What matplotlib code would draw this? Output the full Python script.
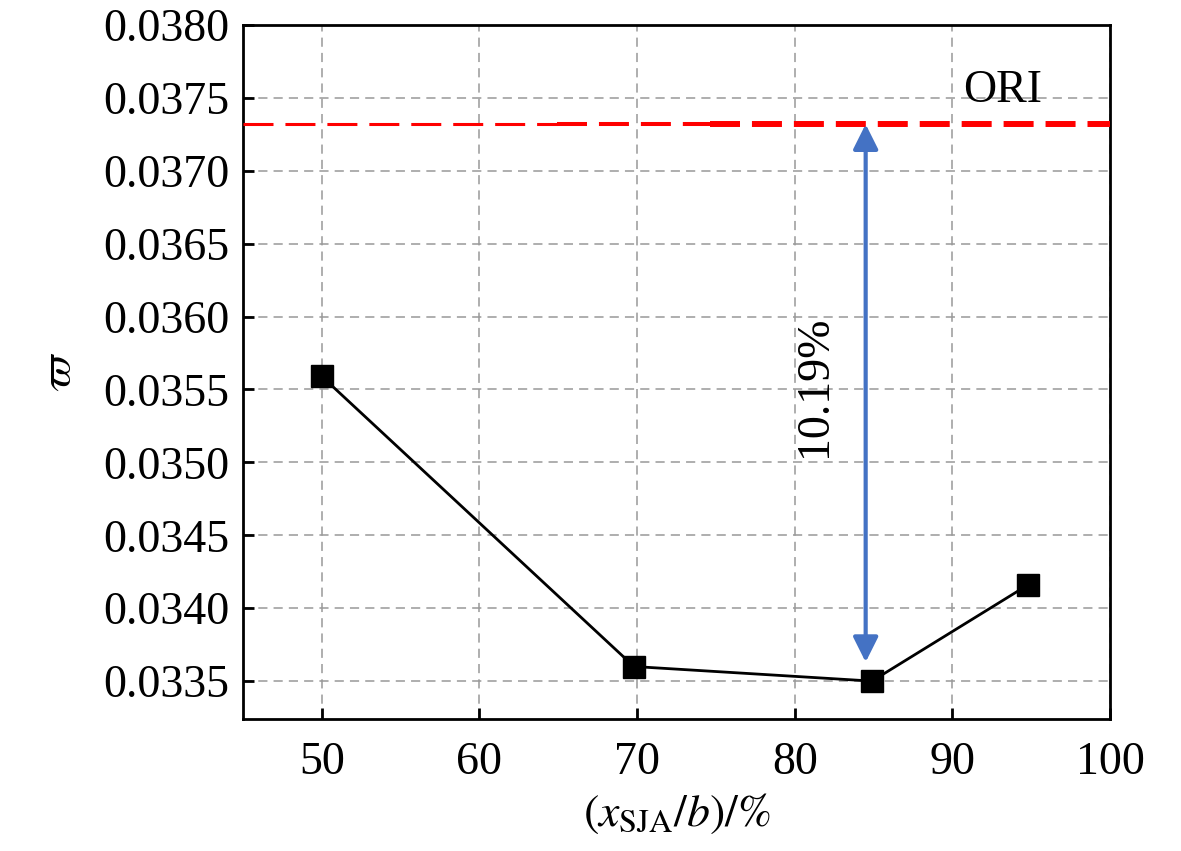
import numpy as np
import matplotlib
matplotlib.use("Agg")
import matplotlib.pyplot as plt

# Data
ratio = [50, 69.8, 84.9, 94.8]          # x_SJA / b (%)
omega = [0.03559, 0.03360, 0.03350, 0.03416]
ori_value = 0.03732
arrow_x = 84.5
arrow_low = 0.03363
drop_label = "10.19%"
xticks = [50, 60, 70, 80, 90, 100]
yticks = [0.0335, 0.0340, 0.0345, 0.0350, 0.0355, 0.0360, 0.0365, 0.0370, 0.0375, 0.0380]

plt.rcParams['font.family'] = ['Liberation Serif', 'DejaVu Serif']
plt.rcParams['mathtext.fontset'] = 'stix'
FS = 33

fig = plt.figure(figsize=(11.81, 8.51), dpi=100)
ax = fig.add_axes([243 / 1181, 1 - 719 / 851, (1110 - 243) / 1181, (719 - 25) / 851])
ax.set_xlim(45, 100)
ax.set_ylim(0.03324, 0.0380)

ax.set_xticks(xticks)
ax.set_yticks(yticks)
ax.set_yticklabels([f"{v:.4f}" for v in yticks])
ax.tick_params(direction='in', length=8, width=2, labelsize=FS, pad=10)
ax.tick_params(axis='x', pad=16)
for s in ax.spines.values():
    s.set_linewidth(2)
ax.grid(True, color='#999999', linestyle=(0, (6, 4)), linewidth=1.1)
ax.set_axisbelow(True)

# ORI reference line (Origin style, thicker towards the right)
def red_dash(x0, x1, lw, offset=0):
    ax.hlines(ori_value, x0, x1, colors='#ff0000', linewidth=lw,
              linestyles=(offset, (21.6 / lw, 8.6 / lw)), zorder=3)

red_dash(45, 64.9, 2.2)
red_dash(64.9, 74.6, 2.9)
red_dash(74.6, 100, 4.3)
ax.text(95.7, 0.03755, "ORI", fontsize=FS, ha='right', va='center')

# line segments with a gap next to the markers
gap = 10  # pixels
pts = ax.transData.transform(np.column_stack([ratio, omega]))
inv = ax.transData.inverted()
for p0, p1 in zip(pts[:-1], pts[1:]):
    d = p1 - p0
    u = d / np.hypot(*d)
    a = inv.transform(p0 + u * gap)
    b = inv.transform(p1 - u * gap)
    ax.plot([a[0], b[0]], [a[1], b[1]], color='black', linewidth=2, zorder=4)
ax.plot(ratio, omega, linestyle='none', marker='s', markersize=16,
        color='black', zorder=5)

# double arrow
ax.annotate('', xy=(arrow_x, ori_value), xytext=(arrow_x, arrow_low),
            arrowprops=dict(arrowstyle='<|-|>', color='#4472c4', lw=3,
                            mutation_scale=38, shrinkA=0, shrinkB=0), zorder=6)
ax.text(81.3, 0.03552, drop_label, fontsize=FS, rotation=90, ha='center', va='center')

ax.set_xlabel(r'$(x_{\mathrm{SJA}}/b)/\%$', fontsize=FS, labelpad=6)
ax.set_ylabel(r'$\varpi$', fontsize=FS, labelpad=16)

fig.savefig('out.png', dpi=100)
